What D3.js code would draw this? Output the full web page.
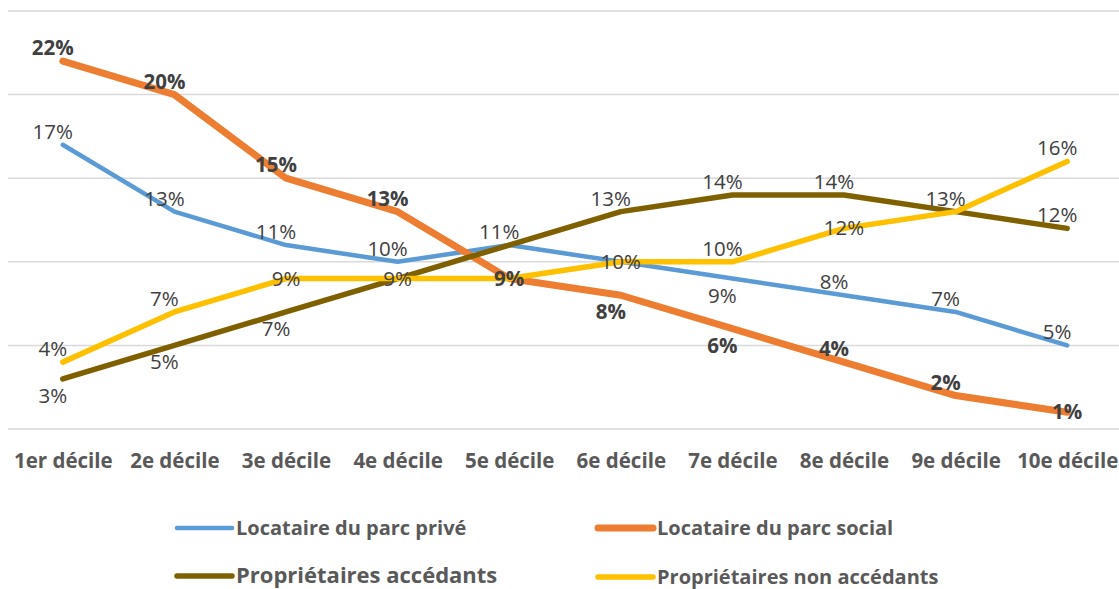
<!DOCTYPE html>
<html>
<head>
<meta charset="utf-8">
<script src="https://cdn.jsdelivr.net/npm/d3@7"></script>
<style>
  body { margin: 0; background: #fff; }
  text { font-family: "Open Sans", Lato, sans-serif; }
</style>
</head>
<body>
<div id="chart"></div>
<script>
const deciles = ["1er décile", "2e décile", "3e décile", "4e décile", "5e décile",
  "6e décile", "7e décile", "8e décile", "9e décile", "10e décile"];

const seriesNames = ["Locataire du parc privé", "Locataire du parc social",
  "Propriétaires accédants", "Propriétaires non accédants"];

const prive = [17, 13, 11, 10, 11, 10, 9, 8, 7, 5];
const social = [22, 20, 15, 13, 9, 8, 6, 4, 2, 1];
const accedants = [3, 5, 7, 9, 11, 13, 14, 14, 13, 12];
const nonAccedants = [4, 7, 9, 9, 9, 10, 10, 12, 13, 16];

const yTicks = [0, 5, 10, 15, 20, 25];

// where each data label sits: a = above, b = below, c = on the point
const labelPos = [
  ["a", "a", "a", "a", "a", "c", "b", "a", "a", "a"],
  ["a", "a", "a", "a", "c", "b", "b", "a", "a", "c"],
  ["b", "b", "b", "c", "a", "a", "a", "a", "a", "a"],
  ["a", "a", "c", "c", "c", "c", "a", "c", "a", "a"]
];

const colors = ["#5B9BD5", "#ED7D31", "#7F6000", "#FFC000"];
const widths = [4.5, 7, 5.5, 5.5];

const series = [prive, social, accedants, nonAccedants];

const W = 1119, H = 589;
const svg = d3.select("#chart").append("svg")
  .attr("width", W).attr("height", H);

const x = d3.scalePoint().domain(deciles).range([7, 1123]).padding(0.5);
const y = d3.scaleLinear().domain([0, 25]).range([429, 11]);

// gridlines
svg.append("g").selectAll("line")
  .data(yTicks).enter().append("line")
  .attr("x1", 8).attr("x2", W)
  .attr("y1", d => y(d)).attr("y2", d => y(d))
  .style("stroke", "#d9d9d9").style("stroke-width", 1.5);

// category axis labels
const xAxis = d3.axisBottom(x).tickSize(0).tickPadding(0);
const gx = svg.append("g").attr("transform", "translate(0,468)").call(xAxis);
gx.select(".domain").remove();
gx.selectAll("text")
  .attr("dy", 0)
  .style("font-family", "'Open Sans', sans-serif")
  .style("font-size", "20.5px")
  .style("font-weight", "bold")
  .style("fill", "#595959");

const line = d3.line()
  .x((d, i) => x(deciles[i]))
  .y(d => y(d));

series.forEach((vals, s) => {
  svg.append("path")
    .datum(vals)
    .attr("d", line)
    .style("fill", "none")
    .style("stroke", colors[s])
    .style("stroke-width", widths[s])
    .style("stroke-linecap", "round")
    .style("stroke-linejoin", "round");
});

// data labels (identical labels at the same spot are drawn once)
const seen = new Set();
series.forEach((vals, s) => {
  const pts = vals.map((d, i) => {
    const p = labelPos[s][i];
    return {
      v: d,
      lx: x(deciles[i]) + (p === "c" ? 0 : -10),
      ly: y(d) + (p === "a" ? -6 : p === "b" ? 24 : 7)
    };
  }).filter(d => {
    const k = `${d.v}|${Math.round(d.lx)}|${Math.round(d.ly)}`;
    if (seen.has(k)) return false;
    seen.add(k);
    return true;
  });
  svg.append("g").selectAll("text")
    .data(pts).enter().append("text")
    .attr("x", d => d.lx)
    .attr("y", d => d.ly)
    .attr("text-anchor", "middle")
    .style("font-size", "20.5px")
    .style("font-weight", s === 1 ? "bold" : "normal")
    .style("fill", "#404040")
    .text(d => d.v + "%");
});

// legend
const legendPos = [[177, 528, 20], [598, 528, 20], [177, 576, 22], [598, 577, 20]];
const legend = svg.append("g").selectAll("g")
  .data(seriesNames).enter().append("g")
  .attr("transform", (d, i) => `translate(${legendPos[i][0]},${legendPos[i][1]})`);

legend.append("line")
  .attr("x1", 0).attr("x2", 55).attr("y1", 0).attr("y2", 0)
  .style("stroke", (d, i) => colors[i])
  .style("stroke-width", (d, i) => widths[i])
  .style("stroke-linecap", "round");

legend.append("text")
  .attr("x", 59).attr("y", 0).attr("dy", "0.33em")
  .style("font-size", (d, i) => legendPos[i][2] + "px")
  .style("font-weight", "bold")
  .style("fill", "#595959")
  .text(d => d);
</script>
</body>
</html>
